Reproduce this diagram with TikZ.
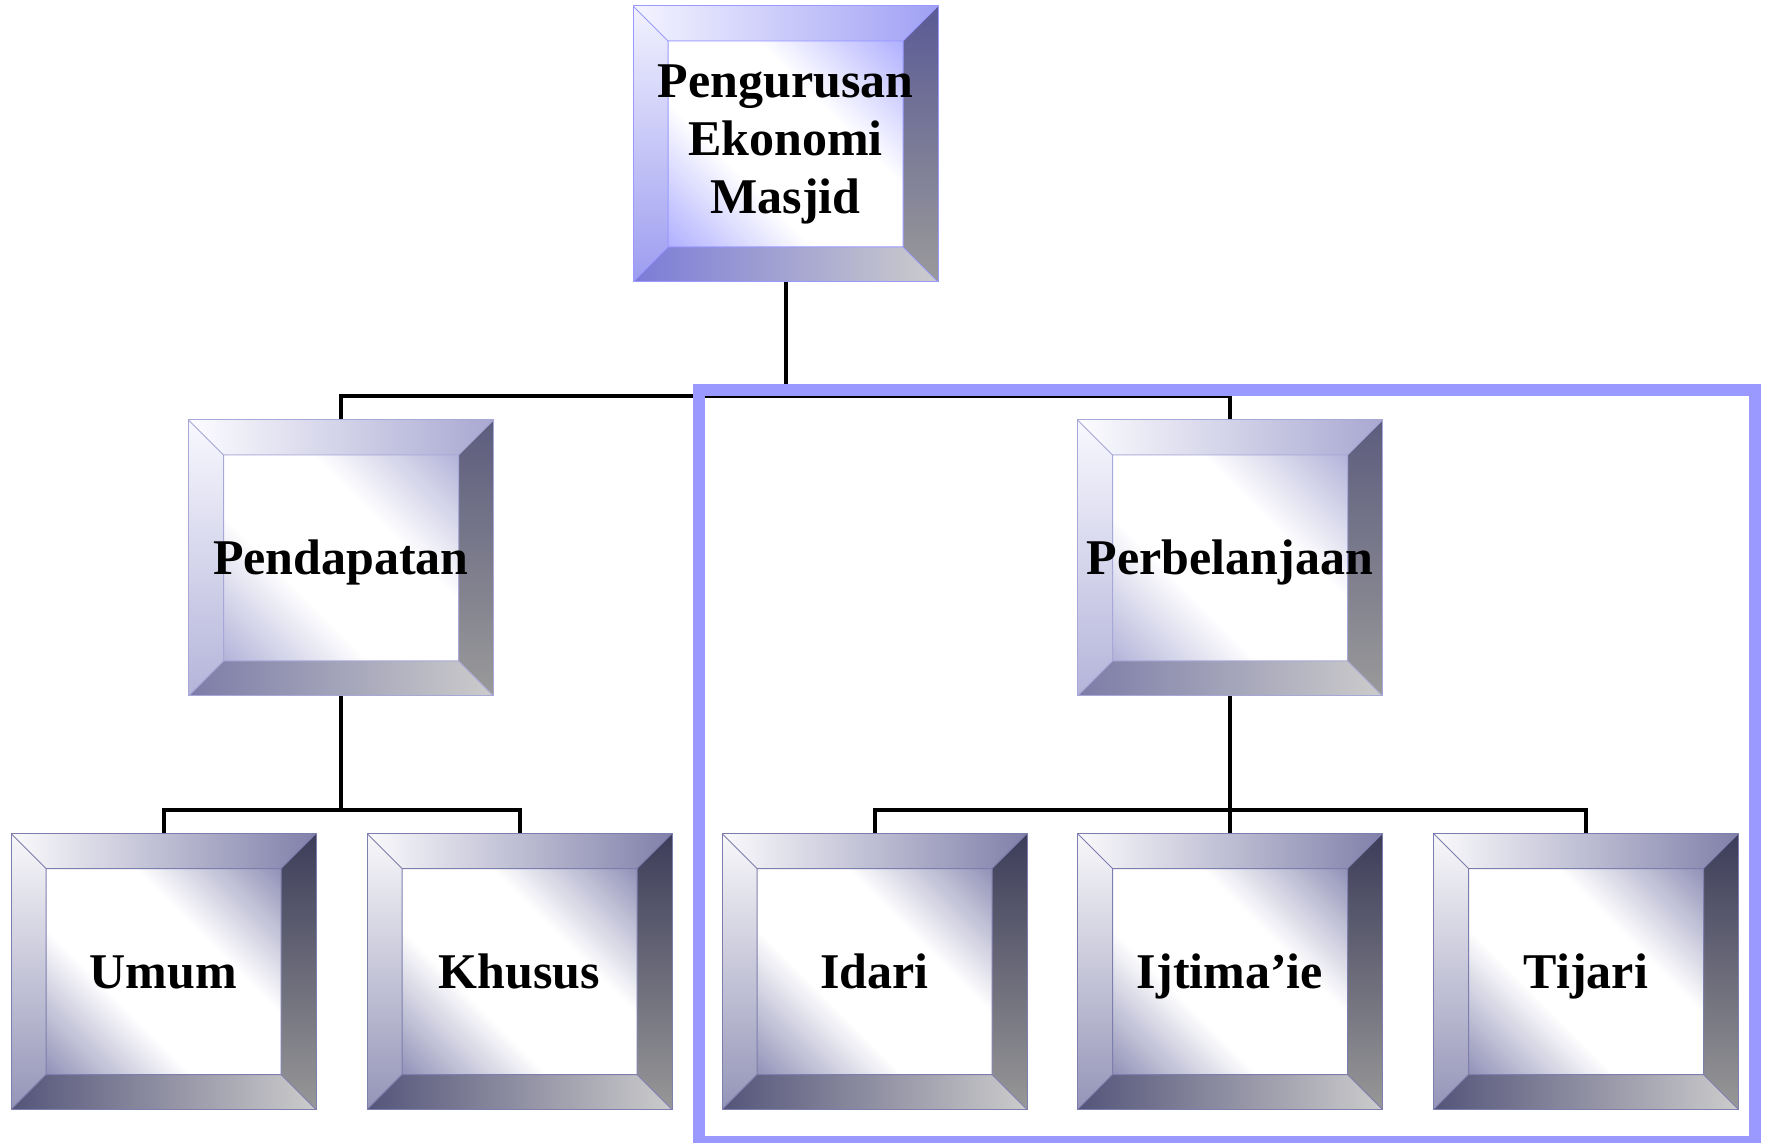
\documentclass[tikz,border=0pt]{standalone}
\usepackage{fontspec}
\setmainfont{Liberation Serif}
\definecolor{TTL}{HTML}{F4F4FF}\definecolor{TTR}{HTML}{A0A0F5}
\definecolor{TLT}{HTML}{F2F2FF}\definecolor{TLB}{HTML}{9C9CF0}
\definecolor{TRT}{HTML}{5A5A96}\definecolor{TRB}{HTML}{9A9A9A}
\definecolor{TBL}{HTML}{7B7BD8}\definecolor{TBR}{HTML}{CCCCCC}
\definecolor{TFC}{HTML}{A0A0FF}\definecolor{TLN}{HTML}{9999FF}
\definecolor{MTL}{HTML}{FCFCFF}\definecolor{MTR}{HTML}{A8A8D2}
\definecolor{MLT}{HTML}{F8F8FF}\definecolor{MLB}{HTML}{B4B4DA}
\definecolor{MRT}{HTML}{5C5C7E}\definecolor{MRB}{HTML}{9A9A9A}
\definecolor{MBL}{HTML}{7C7CA8}\definecolor{MBR}{HTML}{CCCCCC}
\definecolor{MFC}{HTML}{A4A4D2}\definecolor{MLN}{HTML}{A8A8D8}
\definecolor{BTL}{HTML}{FAFAFC}\definecolor{BTR}{HTML}{8080AA}
\definecolor{BLT}{HTML}{F8F8FA}\definecolor{BLB}{HTML}{9494B8}
\definecolor{BRT}{HTML}{3C3C5A}\definecolor{BRB}{HTML}{989898}
\definecolor{BBL}{HTML}{54547A}\definecolor{BBR}{HTML}{CCCCCC}
\definecolor{BFC}{HTML}{7C7CAA}\definecolor{BLN}{HTML}{7E7EAE}
\definecolor{framecol}{HTML}{9999FF}
\pgfdeclareverticalshading{faceT}{100bp}{color(0bp)=(TFC); color(10bp)=(TFC); color(38bp)=(white); color(62bp)=(white); color(90bp)=(TFC); color(100bp)=(TFC)}
\pgfdeclareverticalshading{faceM}{100bp}{color(0bp)=(MFC); color(10bp)=(MFC); color(38bp)=(white); color(62bp)=(white); color(90bp)=(MFC); color(100bp)=(MFC)}
\pgfdeclareverticalshading{faceB}{100bp}{color(0bp)=(BFC); color(10bp)=(BFC); color(38bp)=(white); color(62bp)=(white); color(90bp)=(BFC); color(100bp)=(BFC)}
\def\bev{17.5pt}
\tikzset{
  bevelbox/.style={rectangle, minimum width=152.5pt, minimum height=138pt,
    inner sep=0pt, draw=#1LN, line width=0.5pt, align=center,
    font=\fontsize{25}{29}\selectfont\bfseries,
    path picture={
      \coordinate (o1) at (path picture bounding box.south west);
      \coordinate (o2) at (path picture bounding box.south east);
      \coordinate (o3) at (path picture bounding box.north east);
      \coordinate (o4) at (path picture bounding box.north west);
      \coordinate (i1) at ([shift={(\bev,\bev)}]o1);
      \coordinate (i2) at ([shift={(-\bev,\bev)}]o2);
      \coordinate (i3) at ([shift={(-\bev,-\bev)}]o3);
      \coordinate (i4) at ([shift={(\bev,-\bev)}]o4);
      \shade[left color=#1TL, right color=#1TR] (o4)--(o3)--(i3)--(i4)--cycle;
      \shade[top color=#1LT, bottom color=#1LB] (o4)--(i4)--(i1)--(o1)--cycle;
      \shade[top color=#1RT, bottom color=#1RB] (o3)--(o2)--(i2)--(i3)--cycle;
      \shade[left color=#1BL, right color=#1BR] (o1)--(o2)--(i2)--(i1)--cycle;
      \shade[shading=face#1, shading angle=-45] (i1) rectangle (i3);
      \draw[#1LN, line width=0.5pt] (i1) rectangle (i3) (o4)--(i4) (o3)--(i3) (o2)--(i2) (o1)--(i1);
    }},
  onerow/.style={text height=20pt, text depth=3.5pt},
  conn/.style={line width=2pt, black},
  groupframe/.style={draw=framecol, line width=6pt}
}
\begin{document}
\begin{tikzpicture}[x=0.5pt,y=-0.5pt]
\useasboundingbox (0,0) rectangle (1766,1143);
\node[bevelbox=T] (top) at (785.5,144) {Pengurusan\\Ekonomi\\Masjid};
\node[bevelbox=M, onerow] (pend) at (341,558) {Pendapatan};
\node[bevelbox=M, onerow] (perb) at (1230,558) {Perbelanjaan};
\node[bevelbox=B, onerow] (umum) at (163.5,971.5) {Umum};
\node[bevelbox=B, onerow] (khus) at (519.5,971.5) {Khusus};
\node[bevelbox=B, onerow] (idari) at (874.5,971.5) {Idari};
\node[bevelbox=B, onerow] (ijt) at (1230,971.5) {Ijtima’ie};
\node[bevelbox=B, onerow] (tij) at (1586,971.5) {Tijari};
\coordinate (j1) at (785.5,396);
\coordinate (j2) at (341,810);
\coordinate (j3) at (1230,810);
\draw[conn] (top.south) -- (j1);
\draw[conn] (pend.north) |- (j1) -| (perb.north);
\draw[conn] (pend.south) -- (j2);
\draw[conn] (umum.north) |- (j2) -| (khus.north);
\draw[conn] (perb.south) -- (ijt.north);
\draw[conn] (idari.north) |- (j3) -| (tij.north);
\draw[groupframe] (699,390) rectangle (1755,1142);
\end{tikzpicture}
\end{document}
